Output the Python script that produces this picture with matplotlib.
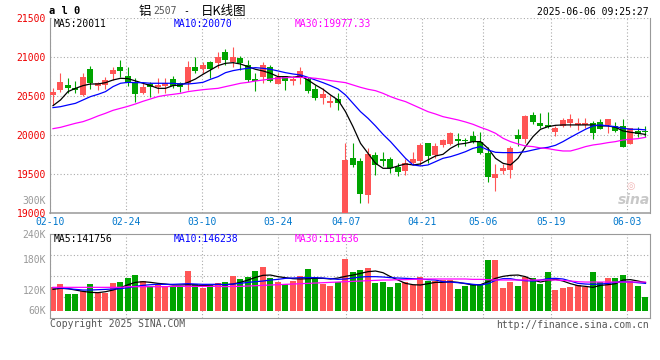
import numpy as np
import matplotlib
matplotlib.use("Agg")
import matplotlib.pyplot as plt

plt.rcParams['font.family'] = 'DejaVu Sans Mono'

# --- dados (铝2507, diário) ---
date_labels = ['02-10', '02-24', '03-10', '03-24', '04-07', '04-21', '05-06', '05-19', '06-03']
date_idx = [0, 10, 20, 30, 39, 49, 57, 66, 76]

opens = [20517, 20581, 20645, 20611, 20517, 20850, 20637, 20645, 20786, 20872,
         20761, 20675, 20538, 20662, 20615, 20637, 20722, 20667, 20667, 20880,
         20850, 20940, 20932, 21064, 20944, 20987, 20902, 20722, 20752, 20880,
         20658, 20761, 20701, 20731, 20718, 20590, 20479, 20419, 20462, 18980,
         19714, 19675, 19235, 19748, 19697, 19697, 19598, 19547, 19641, 19675,
         19897, 19748, 19870, 19893, 19950, 19944, 19991, 19919, 19769, 19457,
         19547, 19556, 20004, 19949, 20261, 20162, 20133, 20047, 20120, 20154,
         20128, 20133, 20154, 20175, 20133, 20120, 20120, 19889, 20060, 20060]
highs = [20602, 20795, 20739, 20701, 20795, 20893, 20688, 20752, 20880, 20966,
         20872, 20731, 20675, 20688, 20735, 20731, 20761, 20688, 20957, 21000,
         20944, 20957, 21064, 21107, 21137, 21017, 20966, 20803, 20944, 20902,
         20795, 20761, 20761, 20880, 20752, 20645, 20602, 20517, 20538, 19897,
         19906, 19705, 19833, 19790, 19790, 19720, 19641, 19700, 19790, 19897,
         19897, 19897, 19950, 20047, 20025, 19970, 20060, 20047, 19855, 19633,
         19633, 19863, 20081, 20261, 20303, 20290, 20303, 20120, 20218, 20273,
         20218, 20218, 20184, 20205, 20209, 20175, 20205, 20090, 20111, 20120]
lows = [20389, 20560, 20538, 20538, 20508, 20594, 20581, 20590, 20709, 20752,
        20637, 20432, 20530, 20496, 20538, 20538, 20602, 20560, 20581, 20795,
        20795, 20731, 20859, 20902, 20880, 20838, 20688, 20573, 20675, 20684,
        20658, 20581, 20649, 20658, 20547, 20453, 20402, 20367, 20325, 18940,
        19598, 19128, 19128, 19485, 19607, 19513, 19480, 19491, 19620, 19620,
        19640, 19705, 19850, 19870, 19855, 19863, 19897, 19761, 19406, 19291,
        19500, 19457, 19863, 19897, 20145, 20090, 20090, 19996, 20102, 20102,
        20068, 20090, 19953, 20077, 20034, 20047, 19846, 19885, 19983, 19983]
closes = [20560, 20684, 20611, 20581, 20752, 20667, 20667, 20709, 20837, 20829,
          20667, 20525, 20615, 20624, 20645, 20675, 20637, 20624, 20880, 20829,
          20902, 20850, 21000, 20966, 21008, 20923, 20709, 20697, 20902, 20701,
          20752, 20697, 20722, 20825, 20573, 20474, 20530, 20440, 20419, 19684,
          19620, 19248, 19761, 19620, 19675, 19577, 19534, 19650, 19700, 19876,
          19735, 19863, 19935, 20030, 19925, 19927, 19919, 19769, 19462, 19500,
          19585, 19842, 19953, 20248, 20175, 20120, 20102, 20090, 20196, 20209,
          20154, 20154, 20034, 20081, 20209, 20060, 19855, 20090, 20017, 20047]

ma5 = [20380, 20453, 20560, 20602, 20637, 20658, 20658, 20675, 20709, 20731,
       20726, 20697, 20667, 20637, 20602, 20602, 20637, 20645, 20679, 20722,
       20782, 20837, 20893, 20923, 20931, 20914, 20880, 20846, 20825, 20795,
       20752, 20752, 20743, 20761, 20709, 20645, 20590, 20517, 20453, 20303,
       20111, 19897, 19769, 19641, 19577, 19577, 19607, 19633, 19620, 19633,
       19684, 19735, 19756, 19833, 19885, 19897, 19919, 19919, 19833, 19705,
       19641, 19620, 19705, 19855, 19983, 20077, 20111, 20128, 20133, 20133,
       20133, 20133, 20133, 20120, 20120, 20103, 20056, 20039, 20026, 20011]
ma10 = [20355, 20367, 20389, 20410, 20453, 20496, 20525, 20560, 20624, 20667,
        20679, 20675, 20675, 20667, 20667, 20667, 20667, 20658, 20658, 20667,
        20679, 20718, 20752, 20803, 20829, 20846, 20859, 20867, 20859, 20846,
        20825, 20803, 20786, 20774, 20743, 20709, 20675, 20637, 20594, 20517,
        20410, 20303, 20218, 20120, 20013, 19919, 19812, 19705, 19620, 19607,
        19620, 19662, 19705, 19726, 19756, 19790, 19833, 19855, 19812, 19782,
        19778, 19778, 19778, 19790, 19812, 19833, 19846, 19872, 19919, 19974,
        20026, 20077, 20120, 20133, 20120, 20111, 20090, 20077, 20077, 20070]
ma30 = [20085, 20102, 20128, 20154, 20175, 20209, 20248, 20282, 20320, 20346,
        20372, 20402, 20436, 20466, 20496, 20513, 20525, 20538, 20560, 20573,
        20585, 20594, 20602, 20624, 20645, 20667, 20679, 20696, 20709, 20722,
        20731, 20739, 20743, 20743, 20739, 20731, 20718, 20701, 20688, 20675,
        20645, 20615, 20590, 20572, 20538, 20496, 20461, 20432, 20389, 20346,
        20303, 20273, 20239, 20218, 20197, 20171, 20141, 20102, 20068, 20026,
        19962, 19919, 19889, 19863, 19855, 19838, 19829, 19812, 19799, 19799,
        19825, 19855, 19876, 19889, 19906, 19919, 19940, 19949, 19957, 19974]

# volume em milhares
volume = [127.0, 133.7, 113.4, 113.4, 120.0, 133.7, 116.6, 116.6, 135.7, 137.6,
          145.5, 151.4, 139.6, 129.8, 131.7, 129.8, 127.8, 127.8, 159.3, 133.7,
          125.8, 131.7, 135.7, 137.6, 149.5, 143.6, 147.5, 159.3, 167.2, 145.5,
          137.6, 133.7, 139.6, 149.5, 163.2, 147.5, 133.7, 129.8, 137.6, 182.9,
          157.3, 161.3, 165.2, 135.7, 137.6, 127.8, 135.7, 137.6, 131.8, 147.5,
          139.6, 139.6, 141.6, 141.6, 123.9, 129.8, 133.7, 131.8, 181.0, 181.0,
          125.8, 137.6, 129.8, 147.5, 145.5, 133.7, 157.3, 121.9, 125.8, 127.8,
          131.8, 127.8, 157.3, 137.6, 145.5, 145.5, 151.4, 139.6, 129.8, 108.1]
vol_ma5 = [123.2, 125.2, 124.5, 121.9, 119.3, 117.3, 116.7, 118.6, 121.9, 126.5,
           132.4, 137.0, 138.3, 137.0, 135.0, 133.7, 131.8, 131.8, 132.4, 131.8,
           130.5, 131.8, 133.1, 132.4, 133.7, 137.0, 141.6, 146.8, 150.8, 151.4,
           148.2, 146.2, 144.2, 143.6, 144.2, 144.9, 144.9, 143.6, 145.5, 148.8,
           151.4, 154.7, 158.0, 159.3, 156.0, 148.2, 141.6, 135.0, 132.4, 131.8,
           134.4, 137.0, 137.0, 138.3, 137.0, 134.4, 131.8, 132.4, 138.3, 144.9,
           148.8, 150.8, 151.4, 148.2, 141.6, 137.6, 140.9, 142.9, 139.6, 134.4,
           130.5, 129.1, 127.2, 131.1, 132.4, 134.4, 141.6, 142.3, 139.6, 136.3]
vol_ma10 = [126.5, 125.9, 124.5, 123.2, 121.9, 121.9, 122.6, 123.2, 123.9, 124.5,
            126.5, 129.1, 131.1, 132.4, 133.1, 133.1, 133.1, 133.7, 134.4, 133.7,
            133.1, 133.1, 133.1, 132.4, 133.7, 135.0, 137.0, 138.3, 139.6, 141.6,
            142.9, 144.9, 145.5, 146.2, 146.2, 146.2, 145.5, 144.2, 142.9, 143.6,
            145.5, 147.5, 148.2, 148.2, 147.5, 146.2, 145.5, 144.9, 144.2, 143.6,
            142.3, 141.6, 138.3, 137.6, 136.3, 135.0, 133.1, 131.8, 134.4, 140.9,
            144.2, 144.2, 141.6, 140.3, 139.6, 141.6, 144.2, 144.9, 143.6, 139.6,
            135.0, 133.7, 133.1, 133.7, 135.0, 137.0, 138.3, 137.6, 136.3, 135.0]
vol_ma30 = [127.2, 127.2, 127.2, 127.2, 127.2, 127.2, 127.2, 127.2, 127.2, 127.2,
            128.5, 128.5, 128.5, 128.5, 128.5, 128.5, 129.1, 129.1, 129.1, 129.1,
            129.1, 129.1, 129.1, 128.5, 129.1, 129.1, 129.8, 130.4, 131.1, 131.8,
            132.4, 133.1, 133.7, 134.4, 135.0, 135.7, 136.3, 137.0, 137.6, 138.3,
            139.0, 139.6, 140.3, 140.9, 141.6, 141.6, 142.3, 142.3, 142.9, 142.9,
            143.6, 143.6, 143.6, 143.6, 143.6, 143.6, 142.9, 142.9, 142.3, 141.6,
            141.6, 141.6, 141.6, 141.6, 141.6, 141.6, 141.6, 141.6, 140.9, 139.6,
            138.3, 137.6, 137.6, 137.6, 137.6, 137.6, 137.6, 137.6, 137.6, 137.6]

price_ticks = [19000, 19500, 20000, 20500, 21000, 21500]
vol_tick_vals = [240, 180, 120, 60]
vol_base = 80.6

RED = '#ff5555'
GREEN = '#00a400'
GRID = '#aaaaaa'
FRAME = '#999999'
DOT = (0, (1, 2))

W, H = 660, 360


def px(x, y):
    return x / W, 1 - y / H


fig = plt.figure(figsize=(6.6, 3.6), dpi=100)
ax = fig.add_axes([50.5 / W, 1 - 213.3 / H, 599.5 / W, 195 / H])
axv = fig.add_axes([50.5 / W, 1 - 318 / H, 599.5 / W, 83.7 / H])

x = np.arange(len(closes))
o = np.array(opens)
c = np.array(closes)
up = c >= o
cores = np.where(up, RED, GREEN)

xlim = (-0.333, 79.6)
# a grade de datas da sina é espalhada em 79 passos pela largura toda
grid_x = xlim[0] + np.array(date_idx) * (xlim[1] - xlim[0]) / 79

# --- painel de preço ---
ax.vlines(x, lows, highs, colors=cores, lw=0.8, zorder=2)
ax.bar(x, np.maximum(np.abs(c - o), 13), bottom=np.minimum(o, c), width=0.8,
       color=cores, linewidth=0, zorder=3)
ax.plot(x, ma5, color='black', lw=0.9, zorder=4)
ax.plot(x, ma10, color='#0000ff', lw=0.9, zorder=4)
ax.plot(x, ma30, color='#ff00ff', lw=0.9, zorder=4)

ax.set_xlim(*xlim)
ax.set_ylim(19000, 21500)
for v in price_ticks[1:]:
    ax.axhline(v, color=GRID, lw=0.8, ls=DOT, zorder=1)
for gx in grid_x:
    ax.axvline(gx, color=GRID, lw=0.8, ls=DOT, zorder=1)
ax.set_yticks(price_ticks)
ax.set_yticklabels([str(v) for v in price_ticks], color='#ee0000', fontsize=7)
ax.set_xticks(grid_x)
ax.set_xticklabels(date_labels, color='#0077cc', fontsize=7)
ax.tick_params(axis='y', length=0, pad=3.2)
ax.tick_params(axis='x', length=0, pad=2.4)
ax.spines['top'].set_visible(False)
for s in ['left', 'right']:
    ax.spines[s].set_color(FRAME)
    ax.spines[s].set_linewidth(0.8)
ax.spines['bottom'].set_color(FRAME)
ax.spines['bottom'].set_linewidth(1.1)

# --- painel de volume ---
axv.bar(x, np.array(volume) - vol_base, bottom=vol_base, width=0.8, color=cores,
        linewidth=0, zorder=2)
axv.plot(x, vol_ma5, color='black', lw=0.9, zorder=4)
axv.plot(x, vol_ma10, color='#0000ff', lw=0.9, zorder=4)
axv.plot(x, vol_ma30, color='#ff00ff', lw=0.9, zorder=4)
axv.set_xlim(*xlim)
axv.set_ylim(66.9, 231.5)
for v in np.linspace(66.9, 231.5, 5)[1:-1]:
    axv.axhline(v, color=GRID, lw=0.8, ls=DOT, zorder=1)
for gx in grid_x:
    axv.axvline(gx, color=GRID, lw=0.8, ls=DOT, zorder=1)
axv.set_xticks([])
axv.set_yticks([])
for s in axv.spines.values():
    s.set_color(FRAME)
    s.set_linewidth(0.8)
for v in vol_tick_vals:
    # o rótulo de baixo fica preso na base das barras, como no original
    yv = max(v, vol_base)
    axv.text(-0.0075, yv, f'{v}K', transform=axv.get_yaxis_transform(),
             ha='right', va='top' if v == 240 else 'center', fontsize=7,
             color='#999999', clip_on=False)

# --- textos ---
fig.text(*px(49, 11.5), 'a l 0', fontsize=7.5, fontweight='bold', ha='left', va='center')
cjk = ['Noto Sans CJK SC', 'DejaVu Sans']
fig.text(*px(139, 11), '铝', family=cjk, fontsize=9, ha='left', va='center')
fig.text(*px(153, 11.5), '2507', fontsize=7, color='#555555', ha='left', va='center')
fig.text(*px(183, 11.5), '-', fontsize=7, ha='left', va='center')
fig.text(*px(201, 11), '日K线图', family=cjk, fontsize=9, ha='left', va='center')
fig.text(*px(649, 12), '2025-06-06 09:25:27', fontsize=7, ha='right', va='center')

fig.text(*px(54, 24), 'MA5:20011', fontsize=7, color='black', va='center')
fig.text(*px(174, 24), 'MA10:20070', fontsize=7, color='#0000ff', va='center')
fig.text(*px(295, 24), 'MA30:19977.33', fontsize=7, color='#ff00ff', va='center')
fig.text(*px(54, 239), 'MA5:141756', fontsize=7, color='black', va='center')
fig.text(*px(174, 239), 'MA10:146238', fontsize=7, color='#0000ff', va='center')
fig.text(*px(295, 239), 'MA30:151636', fontsize=7, color='#ff00ff', va='center')

fig.text(*px(46, 200.7), '300K', fontsize=7, color='#999999', ha='right', va='center')
fig.text(*px(50, 323.7), 'Copyright 2025 SINA.COM', fontsize=7, color='#555555', va='center')
fig.text(*px(649, 324.5), 'http://finance.sina.com.cn', fontsize=7, color='#555555',
         ha='right', va='center')

# marca d'água
fig.text(*px(631, 186), '◎', family='DejaVu Sans', fontsize=7, color='#f2b6b6',
         ha='center', va='center')
fig.text(*px(634, 200), 'sina', family='DejaVu Sans', fontsize=10, fontstyle='italic',
         fontweight='bold', color='#c8c8c8', ha='center', va='center')

fig.savefig('out.png', dpi=100)
